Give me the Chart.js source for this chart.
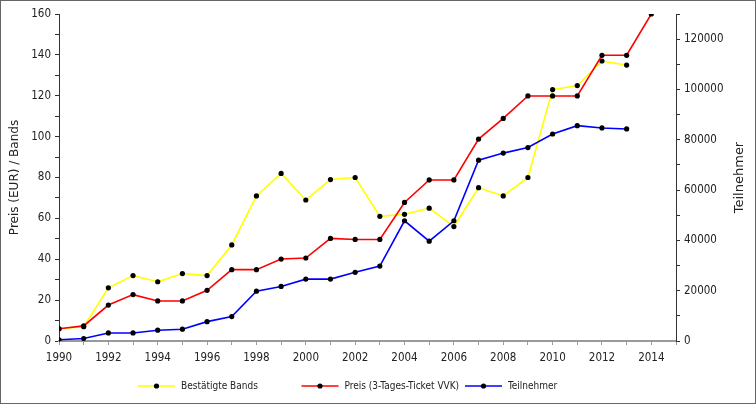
<!DOCTYPE html>
<html>
<head>
<meta charset="utf-8">
<script src="https://cdn.jsdelivr.net/npm/chart.js@4/dist/chart.umd.min.js"></script>
<style>
  html, body { margin: 0; padding: 0; background: #fff; }
  #wrap { width: 756px; height: 404px; }
</style>
</head>
<body>
<div id="wrap"><canvas id="chart" width="756" height="404"></canvas></div>
<script>
// Festival figures per year
const years = [1990, 1991, 1992, 1993, 1994, 1995, 1996, 1997, 1998, 1999, 2000, 2001, 2002,
               2003, 2004, 2005, 2006, 2007, 2008, 2009, 2010, 2011, 2012, 2013, 2014];
const bands = [6, 7, 26, 32, 29, 33, 32, 47, 71, 82, 69, 79, 80,
               61, 62, 65, 56, 75, 71, 80, 123, 125, 137, 135, null];
const preis = [6, 7.4, 17.6, 22.7, 19.6, 19.6, 24.8, 34.9, 34.9, 40.1, 40.6, 50.2, 49.7,
               49.7, 67.8, 78.8, 78.8, 98.8, 108.9, 119.9, 119.9, 119.9, 139.8, 139.8, 160];
const teilnehmer = [500, 1000, 3200, 3200, 4300, 4700, 7700, 9700, 19800, 21700, 24600, 24600, 27300,
                    29800, 47800, 39700, 47800, 71900, 74700, 76900, 82300, 85600, 84700, 84300, null];

const FONT = "'DejaVu Sans Condensed', 'DejaVu Sans', sans-serif";
const TEXT = '#222';

function toPoints(values) {
    return years.map((y, i) => ({ x: y, y: values[i] }));
}

function series(label, values, color, axis, order) {
    return {
        label: label,
        data: toPoints(values),
        yAxisID: axis,
        borderColor: color,
        backgroundColor: color,
        borderWidth: 1.6,
        pointRadius: 2.6,
        pointBackgroundColor: '#000',
        pointBorderWidth: 0,
        tension: 0,
        spanGaps: false,
        order: order
    };
}

// frame, right title and the line+dot legend
const decor = {
    id: 'decor',
    beforeDraw(chart) {
        const ctx = chart.ctx;
        ctx.save();
        ctx.fillStyle = '#fff';
        ctx.fillRect(0, 0, chart.width, chart.height);
        ctx.restore();
    },
    afterDraw(chart) {
        const ctx = chart.ctx;
        const area = chart.chartArea;
        ctx.save();
        ctx.strokeStyle = '#666';
        ctx.lineWidth = 1;
        ctx.strokeRect(0.5, 0.5, chart.width - 1, chart.height - 1);

        // right axis title, reading upwards
        ctx.fillStyle = TEXT;
        ctx.font = "13px 'DejaVu Sans', sans-serif";
        ctx.textAlign = 'center';
        ctx.textBaseline = 'middle';
        ctx.translate(740, (area.top + area.bottom) / 2);
        ctx.rotate(-Math.PI / 2);
        ctx.fillText('Teilnehmer', 0, 0);
        ctx.restore();

        // legend
        ctx.save();
        ctx.font = '10px ' + FONT;
        ctx.textBaseline = 'middle';
        ctx.textAlign = 'left';
        const ly = 386;
        chart.data.datasets.forEach((ds, i) => {
            const x0 = 138 + i * 163.5;
            ctx.strokeStyle = ds.borderColor;
            ctx.lineWidth = 1.6;
            ctx.beginPath();
            ctx.moveTo(x0, ly);
            ctx.lineTo(x0 + 37, ly);
            ctx.stroke();
            ctx.fillStyle = '#000';
            ctx.beginPath();
            ctx.arc(x0 + 18.5, ly, 2.6, 0, Math.PI * 2);
            ctx.fill();
            ctx.fillStyle = TEXT;
            ctx.fillText(ds.label, x0 + 43, ly);
        });
        ctx.restore();
    }
};

new Chart(document.getElementById('chart'), {
    type: 'line',
    data: {
        datasets: [
            series('Bestätigte Bands', bands, '#ffff00', 'y', 3),
            series('Preis (3-Tages-Ticket VVK)', preis, '#ff0000', 'y', 2),
            series('Teilnehmer', teilnehmer, '#0000ff', 'y2', 1)
        ]
    },
    options: {
        responsive: false,
        animation: false,
        layout: { padding: { top: 14, left: 0, right: 0, bottom: 0 } },
        plugins: {
            legend: { display: false },
            tooltip: { enabled: false }
        },
        scales: {
            x: {
                type: 'linear',
                min: 1990,
                max: 2015,
                afterFit(scale) { scale.height = 63; },
                border: { color: '#9a9a9a', width: 2 },
                grid: {
                    drawOnChartArea: false,
                    drawTicks: true,
                    tickLength: 4,
                    tickColor: '#9a9a9a'
                },
                ticks: {
                    stepSize: 1,
                    autoSkip: false,
                    maxRotation: 0,
                    padding: 6,
                    color: TEXT,
                    font: { family: FONT, size: 11.5 },
                    callback: v => (v % 2 === 0 && v <= 2014) ? String(v) : ''
                }
            },
            y: {
                position: 'left',
                min: 0,
                max: 160,
                afterFit(scale) { scale.width = 59; },
                border: { color: '#333', width: 1 },
                grid: {
                    drawOnChartArea: false,
                    drawTicks: true,
                    tickLength: 4,
                    tickColor: '#333'
                },
                ticks: {
                    stepSize: 10,
                    autoSkip: false,
                    padding: 4,
                    color: TEXT,
                    font: { family: FONT, size: 11.5 },
                    callback: v => v % 20 === 0 ? String(v) : ''
                }
            },
            y2: {
                position: 'right',
                min: 0,
                max: 130000,
                afterFit(scale) { scale.width = 80; },
                border: { color: '#333', width: 1 },
                grid: {
                    drawOnChartArea: false,
                    drawTicks: true,
                    tickLength: 4,
                    tickColor: '#333'
                },
                ticks: {
                    stepSize: 10000,
                    autoSkip: false,
                    padding: 4,
                    color: TEXT,
                    font: { family: FONT, size: 11.5 },
                    callback: v => v % 20000 === 0 ? String(v) : ''
                }
            }
        }
    },
    plugins: [decor, {
        id: 'leftTitle',
        afterDraw(chart) {
            const ctx = chart.ctx;
            const area = chart.chartArea;
            ctx.save();
            ctx.fillStyle = TEXT;
            ctx.font = "12px 'DejaVu Sans', sans-serif";
            ctx.textAlign = 'center';
            ctx.textBaseline = 'middle';
            ctx.translate(15, (area.top + area.bottom) / 2);
            ctx.rotate(-Math.PI / 2);
            ctx.fillText('Preis (EUR) / Bands', 0, 0);
            ctx.restore();
        }
    }]
});
</script>
</body>
</html>
